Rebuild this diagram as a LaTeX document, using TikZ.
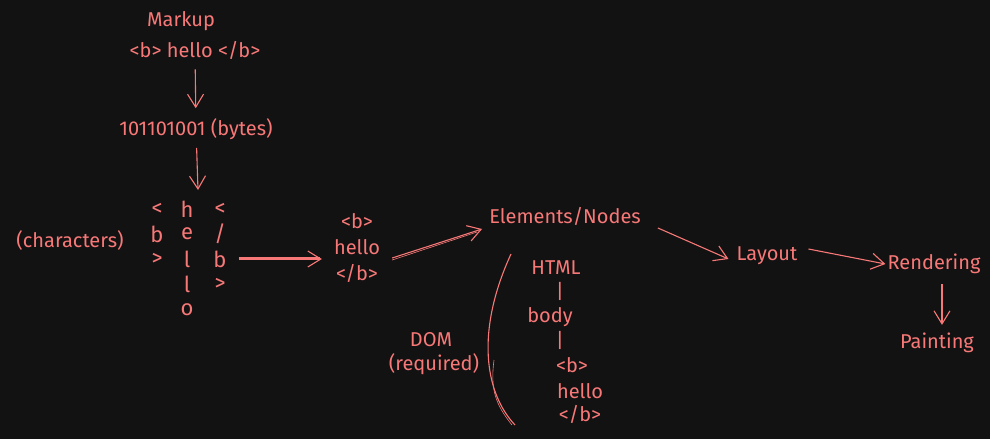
\documentclass[tikz,border=0pt]{standalone}
\usepackage{fontspec}
\setmainfont{Fira Sans}
\usetikzlibrary{arrows.meta}
\definecolor{bg}{HTML}{121212}
\definecolor{ink}{HTML}{F87878}
\tikzset{
  lbl/.style={text=ink, inner sep=0pt, font=\fontsize{20}{22}\selectfont},
  big/.style={font=\fontsize{22}{24}\selectfont},
  arr/.style={draw=ink, line width=1.1pt, -{Straight Barb[length=13pt,width=16pt,line width=1.1pt]}},
  ln/.style={draw=ink, line width=1.1pt},
}
\begin{document}
\begin{tikzpicture}[x=1pt,y=-1pt]
\fill[bg] (0,0) rectangle (990,439);
\useasboundingbox (0,0) rectangle (990,439);
% top column
\node[lbl] (markup) at (181,21) {Markup};
\node[lbl] (m2) at (195,50) {<b> hello </b>};
\node[lbl] (bytes) at (196,129) {101101001 (bytes)};
% characters grid
\node[lbl] (chars) at (70,240) {(characters)};
\node[lbl, big] (c1a) at (157,209) {<};
\node[lbl, big] (c1b) at (157,234) {b};
\node[lbl, big] (c1c) at (157,259) {>};
\node[lbl, big] (c2a) at (187,209) {h};
\node[lbl, big] (c2b) at (187,234) {e};
\node[lbl, big] (c2c) at (187,259) {l};
\node[lbl, big] (c2d) at (187,284) {l};
\node[lbl, big] (c2e) at (187,310) {o};
\node[lbl, big] (c3a) at (220,209) {<};
\node[lbl, big] (c3b) at (220,234) {/};
\node[lbl, big] (c3c) at (220,259) {b};
\node[lbl, big] (c3d) at (220,284) {>};
\coordinate (gtop) at (198,190);
% tags
\node[lbl, align=center, font=\fontsize{20}{26}\selectfont] (tags) at (357,248) {<b>\\hello\\<\kern-0.5pt/b>};
% right part
\node[lbl] (elem) at (565,216) {Elements/Nodes};
\node[lbl] (layout) at (767,256) {Layout};
\node[lbl] (render) at (934,264) {Rendering};
\node[lbl] (paint) at (937,343) {Painting};
% DOM tree
\node[lbl] (html) at (556,268) {HTML};
\node[lbl] (bar1) at (560,291) {|};
\node[lbl] (body) at (550,317) {body};
\node[lbl] (bar2) at (560,340) {|};
\node[lbl] (tb) at (572,365) {<b>};
\node[lbl] (th) at (580,391) {hello};
\node[lbl] (tbe) at (580,414) {</b>};
\node[lbl] (dom) at (431,340) {DOM};
\node[lbl] (req) at (434,364) {(required)};
% separator curve
\draw[ln] (511,254) .. controls (476,330) and (484,392) .. (515,425);
\draw[ln, line width=0.6pt] (494,360) .. controls (490,390) and (496,405) .. (512,425);
% connectors
\draw[arr, shorten <=10pt, shorten >=10pt] (m2) -- (bytes);
\draw[arr, shorten <=8pt] (bytes) -- (gtop);
\draw[arr, shorten <=12pt, shorten >=12pt] (c3c.east) -- (c3c.east -| tags.west);
\draw[ln, line width=0.6pt, shorten <=12pt, shorten >=14pt] ([yshift=2pt]c3c.east) -- ([yshift=2pt]c3c.east -| tags.west);
\draw[arr] ([shift={(12,10)}]tags.east) -- ([shift={(-7,13)}]elem.west);
\draw[ln, line width=0.6pt] ([shift={(12,12)}]tags.east) -- ([shift={(-12,16)}]elem.west);
\draw[arr] ([shift={(17,12)}]elem.east) -- ([shift={(-8,3)}]layout.west);
\draw[arr] ([shift={(11,-7)}]layout.east) -- ([shift={(-2,0)}]render.west);
\draw[arr, shorten <=10pt, shorten >=8pt] ([xshift=8pt]render.south) -- ([xshift=5pt]paint.north);
\end{tikzpicture}
\end{document}
